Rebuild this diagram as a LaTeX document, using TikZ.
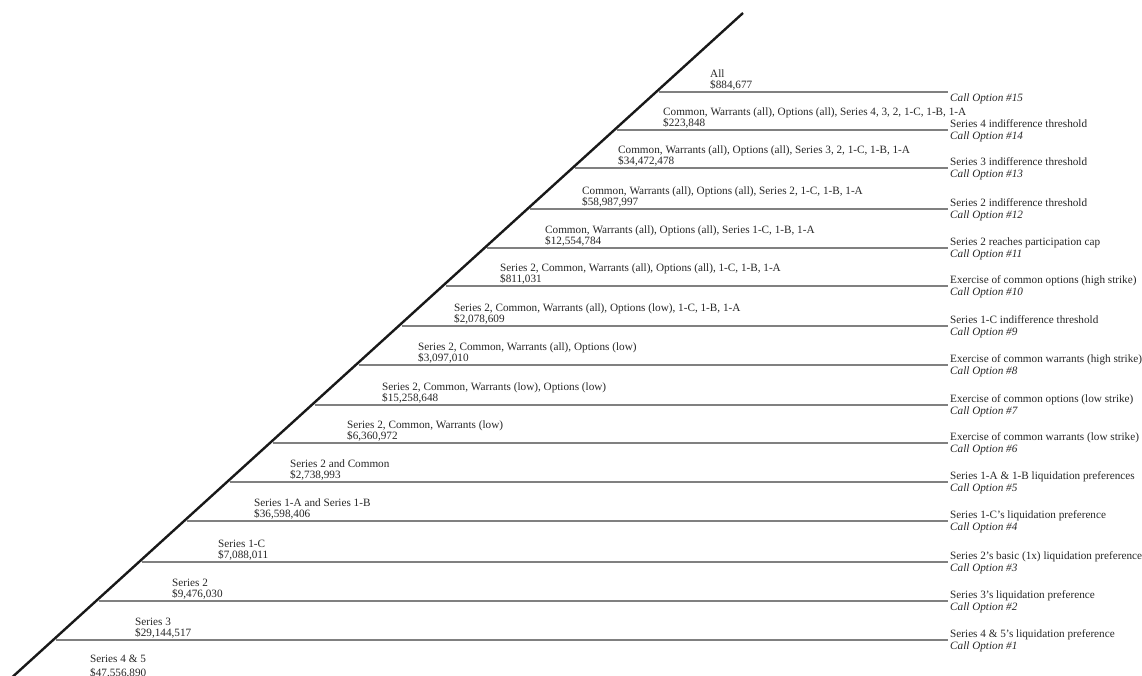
\documentclass[tikz,border=0pt]{standalone}
\usepackage{fontspec}
\setmainfont{Liberation Serif}
\begin{document}
\begin{tikzpicture}[x=1pt,y=-1pt,
  txt/.style={inner sep=0pt,anchor=base west,text=black!85,font=\fontsize{11.2}{13}\selectfont},
  italtxt/.style={txt,font=\fontsize{11.2}{13}\selectfont\itshape},
  tierline/.style={draw=black!50,line width=2pt},
  diag/.style={draw=black!90,line width=2.4pt}]
\useasboundingbox (0,0) rectangle (1142,675);
\clip (0,0) rectangle (1142,675);
\coordinate (top) at (743,13);
\coordinate (bot) at (8,681);
\draw[diag] (bot) -- (top);
\foreach \y/\lx/\nm/\val/\co/\desc [count=\i] in {
  92/710/{All}/{\$884,677}/15/{},
  130/663/{Common, Warrants (all), Options (all), Series 4, 3, 2, 1-C, 1-B, 1-A}/{\$223,848}/14/{Series 4 indifference threshold},
  168/618/{Common, Warrants (all), Options (all), Series 3, 2, 1-C, 1-B, 1-A}/{\$34,472,478}/13/{Series 3 indifference threshold},
  209/582/{Common, Warrants (all), Options (all), Series 2, 1-C, 1-B, 1-A}/{\$58,987,997}/12/{Series 2 indifference threshold},
  248/545/{Common, Warrants (all), Options (all), Series 1-C, 1-B, 1-A}/{\$12,554,784}/11/{Series 2 reaches participation cap},
  286/500/{Series 2, Common, Warrants (all), Options (all), 1-C, 1-B, 1-A}/{\$811,031}/10/{Exercise of common options (high strike)},
  326/454/{Series 2, Common, Warrants (all), Options (low), 1-C, 1-B, 1-A}/{\$2,078,609}/9/{Series 1-C indifference threshold},
  365/418/{Series 2, Common, Warrants (all), Options (low)}/{\$3,097,010}/8/{Exercise of common warrants (high strike)},
  405/382/{Series 2, Common, Warrants (low), Options (low)}/{\$15,258,648}/7/{Exercise of common options (low strike)},
  443/347/{Series 2, Common, Warrants (low)}/{\$6,360,972}/6/{Exercise of common warrants (low strike)},
  482/290/{Series 2 and Common}/{\$2,738,993}/5/{Series 1-A \& 1-B liquidation preferences},
  521/254/{Series 1-A and Series 1-B}/{\$36,598,406}/4/{Series 1-C's liquidation preference},
  562/218/{Series 1-C}/{\$7,088,011}/3/{Series 2's basic (1x) liquidation preference},
  601/172/{Series 2}/{\$9,476,030}/2/{Series 3's liquidation preference},
  640/135/{Series 3}/{\$29,144,517}/1/{Series 4 \& 5's liquidation preference}} {
  \pgfmathsetmacro{\sx}{743-(\y-13)*1.1006+3}
  \coordinate (s\i) at (\sx,\y);
  \coordinate (e\i) at (948,\y);
  \draw[tierline] (s\i) -- (e\i);
  \node[txt] (n\i) at (\lx,\y-15) {\nm};
  \node[txt] (v\i) at (\lx,\y-4) {\val};
  \node[italtxt] (c\i) at (950,\y+9) {Call Option \#\co};
  \node[txt] (d\i) at (950,\y-3) {\desc};
}
\node[txt] (nbot) at (90,662) {Series 4 \& 5};
\node[txt] (vbot) at (90,676) {\$47,556,890};
\end{tikzpicture}
\end{document}
